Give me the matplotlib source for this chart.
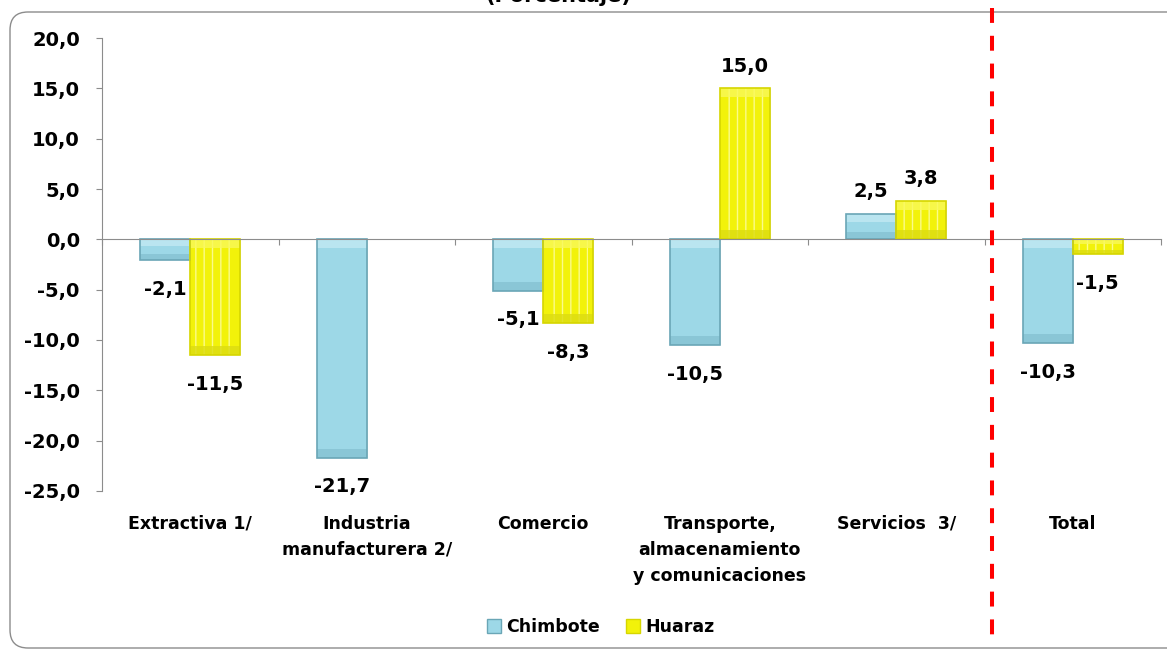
import matplotlib.pyplot as plt
from matplotlib.patches import FancyBboxPatch, Patch
from matplotlib.lines import Line2D
import matplotlib.transforms as mtransforms
import numpy as np

categorias = ["Extractiva 1/", "Industria\nmanufacturera 2/", "Comercio",
              "Transporte,\nalmacenamiento\ny comunicaciones", "Servicios  3/", "Total"]
chimbote = [-2.1, -21.7, -5.1, -10.5, 2.5, -10.3]
huaraz = [-11.5, None, -8.3, 15.0, 3.8, -1.5]
yticks = [-25, -20, -15, -10, -5, 0, 5, 10, 15, 20]

plt.rcParams['font.family'] = ['DejaVu Sans']
plt.rcParams['font.weight'] = 'bold'

AZUL, AZUL_BORDE, AZUL_CLARO, AZUL_OSCURO = "#9dd8e7", "#6aa6b6", "#c2e9f3", "#86c2d2"
AMARILLO, AMARILLO_BORDE = "#f2f20a", "#d6d600"
AMARILLO_RAYA, AMARILLO_CLARO, AMARILLO_OSCURO = "#fbfb8a", "#f9f95a", "#dcdc12"

fig = plt.figure(figsize=(11.67, 6.51), dpi=100)
ax = fig.add_axes([0.0874, 0.2458, 0.9075, 0.6958])

# marco redondeado del grafico
marco = FancyBboxPatch((0.10, 0.03), 11.9, 6.36, boxstyle="round,pad=0,rounding_size=0.18",
                       transform=fig.dpi_scale_trans, facecolor="white",
                       edgecolor="#8c8c8c", lw=1.0, zorder=-10)
fig.patches.append(marco)

x = np.arange(len(categorias))
w = 0.283


def barra(xs, vals, color, borde, claro, oscuro, rayas=False):
    xs = np.asarray(xs, dtype=float)
    vals = np.asarray(vals, dtype=float)
    # sombra suave
    ax.bar(xs + 0.006, vals, w, color="#00000022", linewidth=0, zorder=2)
    ax.bar(xs, vals, w, color=color, linewidth=0, zorder=3)
    if rayas:
        ax.bar(xs, vals, w * 0.8, color="none", edgecolor=AMARILLO_RAYA, linewidth=0,
               hatch="||", zorder=4)
    # bisel: luz desde arriba, banda clara arriba y oscura abajo
    banda = np.minimum(0.9, np.abs(vals) * 0.3)
    arriba = np.maximum(vals, 0)
    abajo = np.minimum(vals, 0)
    ax.bar(xs, banda, w, bottom=arriba - banda, color=claro, alpha=0.8, linewidth=0, zorder=4)
    ax.bar(xs, banda, w, bottom=abajo, color=oscuro, alpha=0.8, linewidth=0, zorder=4)
    ax.bar(xs, vals, w, color="none", edgecolor=borde, linewidth=1.2, zorder=5)


barra(x - w / 2, chimbote, AZUL, AZUL_BORDE, AZUL_CLARO, AZUL_OSCURO)
hx = [xi + w / 2 for xi, v in zip(x, huaraz) if v is not None]
hv = [v for v in huaraz if v is not None]
barra(hx, hv, AMARILLO, AMARILLO_BORDE, AMARILLO_CLARO, AMARILLO_OSCURO, rayas=True)


def etiqueta(xp, v):
    txt = f"{v:.1f}".replace(".", ",")
    off = 16 if v >= 0 else -21
    ax.annotate(txt, (xp, v), xytext=(0, off), textcoords="offset points",
                ha="center", va="center", fontsize=14, fontweight="bold", zorder=6)


for xi, v in zip(x, chimbote):
    etiqueta(xi - w / 2, v)
for xi, v in zip(x, huaraz):
    if v is not None:
        etiqueta(xi + w / 2, v)

ax.set_xlim(-0.5, len(categorias) - 0.5)
ax.set_ylim(-25, 20)
ax.set_yticks(yticks)
ax.set_yticklabels([f"{t:.1f}".replace(".", ",") for t in yticks], fontsize=14, fontweight="bold")
ax.tick_params(axis="y", length=4, color="#8c8c8c", pad=12)
ax.set_xticks(np.arange(-0.5, len(categorias)))
ax.set_xticklabels([])
ax.tick_params(axis="x", length=4, color="#8c8c8c", direction="out")
ax.spines["bottom"].set_position(("data", 0))
ax.spines["bottom"].set_zorder(7)
for s in ["top", "right"]:
    ax.spines[s].set_visible(False)
for s in ["left", "bottom"]:
    ax.spines[s].set_color("#8c8c8c")

trans = mtransforms.blended_transform_factory(ax.transData, ax.transAxes)
for xi, c in zip(x, categorias):
    ax.text(xi, -0.052, c, transform=trans, ha="center", va="top",
            fontsize=12.5, fontweight="bold", linespacing=1.6)

# linea roja separando el total
tl = mtransforms.blended_transform_factory(ax.transData, fig.transFigure)
ax.add_line(Line2D([4.54, 4.54], [0.988, 0.017], transform=tl, color="red", lw=2.9,
                   dashes=(3.7, 3.2), clip_on=False, zorder=8))

fig.text(0.478, 1.006, "(Porcentaje)", ha="center", va="center", fontsize=15, fontweight="bold")

ax.legend(handles=[Patch(facecolor=AZUL, edgecolor=AZUL_BORDE, label="Chimbote"),
                   Patch(facecolor=AMARILLO, edgecolor=AMARILLO_BORDE, label="Huaraz")],
          loc="center", bbox_to_anchor=(0.515, 0.037), bbox_transform=fig.transFigure,
          ncol=2, frameon=False, handlelength=0.8, handleheight=0.8,
          handletextpad=0.3, columnspacing=1.5, prop={"weight": "bold", "size": 12.5})

fig.savefig("out.png", dpi=100)
